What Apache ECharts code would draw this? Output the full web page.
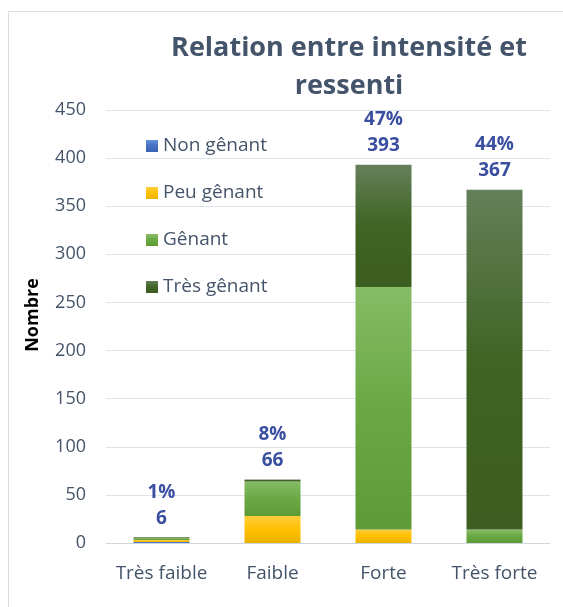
<!DOCTYPE html>
<html><head><meta charset="utf-8">
<script src="https://cdn.jsdelivr.net/npm/echarts@6/dist/echarts.min.js"></script>
<style>
html,body{margin:0;padding:0;background:#fff;overflow:hidden;}
#frame{position:absolute;left:8px;top:11px;width:600px;height:620px;border:1px solid #dadfe6;box-sizing:border-box;}
#chart{position:absolute;left:0;top:0;width:563px;height:607px;}
</style></head>
<body>
<div id="frame"></div>
<div id="chart"></div>
<script>
const categories = ['Très faible', 'Faible', 'Forte', 'Très forte'];
const nonGenant = [1, 0, 0, 0];
const peuGenant = [2, 28, 14, 0];
const genant = [2, 36, 252, 14];
const tresGenant = [1, 2, 127, 353];
const yTicks = [0, 50, 100, 150, 200, 250, 300, 350, 400, 450];

const totals = categories.map((_, i) => nonGenant[i] + peuGenant[i] + genant[i] + tresGenant[i]);
const grand = totals.reduce((a, b) => a + b, 0);

const font = '"Open Sans", "Noto Sans", sans-serif';
function grad(c0, c1, c2) {
  return new echarts.graphic.LinearGradient(0, 0, 0, 1, [
    {offset: 0, color: c0}, {offset: 0.5, color: c1}, {offset: 1, color: c2}
  ]);
}
const chart = echarts.init(document.getElementById('chart'), null, {renderer: 'canvas'});
const barW = 56;
function mk(name, data, color) {
  return {name, type: 'bar', stack: 'all', data, barWidth: barW,
    itemStyle: {color}, emphasis: {disabled: true}};
}
chart.setOption({
  animation: false,
  title: {
    text: 'Relation entre intensité et\nressenti',
    left: 344, top: 24, textAlign: 'center',
    textStyle: {fontFamily: font, fontSize: 27, fontWeight: 'bold', color: '#44546a', lineHeight: 38}
  },
  graphic: [{
    type: 'text', x: 33, y: 315, rotation: Math.PI / 2,
    style: {text: 'Nombre', fontFamily: font, fontSize: 18, fontWeight: 'bold', fill: '#000',
      align: 'center', verticalAlign: 'middle'}
  }],
  grid: {left: 106, right: 13, top: 110, bottom: 64, containLabel: false},
  legend: {
    data: ['Non gênant', 'Peu gênant', 'Gênant', 'Très gênant'],
    orient: 'vertical', left: 141, top: 130, itemGap: 25,
    itemWidth: 12, itemHeight: 12, icon: 'rect',
    textStyle: {fontFamily: font, fontSize: 19, color: '#44546a', lineHeight: 22, padding: [0, 0, 0, 0]}
  },
  xAxis: {
    type: 'category', data: categories,
    axisLine: {lineStyle: {color: '#d0d6de', width: 1}},
    axisTick: {show: false},
    axisLabel: {fontFamily: font, fontSize: 19, color: '#44546a', margin: 21, interval: 0}
  },
  yAxis: {
    type: 'value', min: 0, max: 450, interval: 50,
    axisLine: {show: false}, axisTick: {show: false},
    axisLabel: {fontFamily: font, fontSize: 18, color: '#44546a', margin: 20,
      formatter: v => yTicks.includes(v) ? String(v) : ''},
    splitLine: {lineStyle: {color: '#dfe3ea', width: 1}}
  },
  series: [
    mk('Non gênant', nonGenant, grad('#6190dc', '#4472c4', '#3a63b0')),
    mk('Peu gênant', peuGenant, grad('#ffcd3a', '#ffc000', '#e9b200')),
    mk('Gênant', genant, grad('#86bc66', '#6aa843', '#5d9b37')),
    mk('Très gênant', tresGenant, grad('#64805a', '#3f6423', '#3c5e20')),
    {name: 'total', type: 'bar', stack: 'all', barWidth: barW, data: categories.map(() => 0),
      itemStyle: {color: 'transparent'}, silent: true,
      label: {show: true, position: 'top', distance: 6,
        fontFamily: font, fontSize: 19, fontWeight: 'bold', color: '#3a4fa0', lineHeight: 26, align: 'center',
        formatter: p => Math.round(totals[p.dataIndex] / grand * 100) + '%\n' + totals[p.dataIndex]}}
  ]
});
</script>
</body></html>
